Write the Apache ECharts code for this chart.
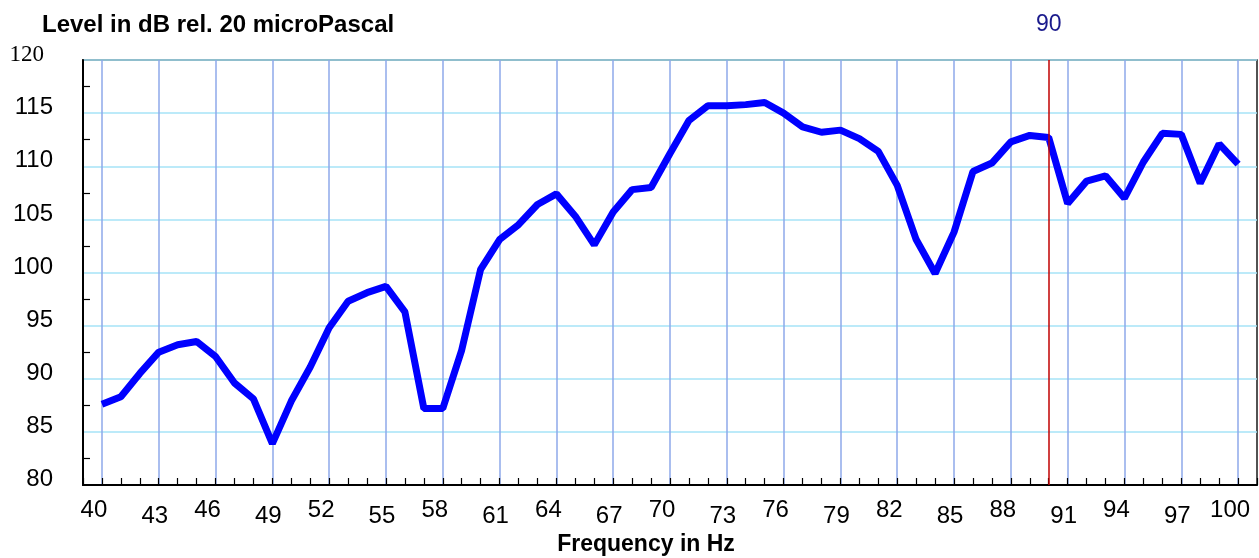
<!DOCTYPE html>
<html>
<head>
<meta charset="utf-8">
<script src="https://cdn.jsdelivr.net/npm/echarts@6/dist/echarts.min.js"></script>
<style>
  html, body { margin: 0; padding: 0; background: #fff; }
  #spl { width: 1259px; height: 558px; }
</style>
</head>
<body>
<div id="spl"></div>
<script>
// frequency in Hz, one point per Hz
let freqs = [40, 41, 42, 43, 44, 45, 46, 47, 48, 49,
  50, 51, 52, 53, 54, 55, 56, 57, 58, 59,
  60, 61, 62, 63, 64, 65, 66, 67, 68, 69,
  70, 71, 72, 73, 74, 75, 76, 77, 78, 79,
  80, 81, 82, 83, 84, 85, 86, 87, 88, 89,
  90, 91, 92, 93, 94, 95, 96, 97, 98, 99, 100];
// level in dB
let levels = [87.6, 88.3, 90.5, 92.5, 93.2, 93.5, 92.1, 89.6, 88.1, 83.9,
  87.9, 91.1, 94.8, 97.3, 98.1, 98.7, 96.3, 87.2, 87.2, 92.7,
  100.3, 103.1, 104.5, 106.4, 107.4, 105.3, 102.6, 105.7, 107.8, 108.0,
  111.2, 114.3, 115.7, 115.7, 115.8, 116.0, 115.0, 113.7, 113.2, 113.4,
  112.6, 111.4, 108.2, 103.1, 99.9, 103.8, 109.5, 110.3, 112.3, 112.9,
  112.7, 106.5, 108.6, 109.1, 107.0, 110.4, 113.1, 113.0, 108.4, 112.1, 110.2];
let xTicks = [40, 43, 46, 49, 52, 55, 58, 61, 64, 67, 70, 73, 76, 79, 82, 85, 88, 91, 94, 97, 100];
let yTicks = [80, 85, 90, 95, 100, 105, 110, 115, 120];
let cursorFreq = 90;

let font = "Liberation Sans, Arial, sans-serif";
let pts = freqs.map(function (f, i) { return [f, levels[i]]; });

let option = {
  animation: false,
  backgroundColor: "#fff",
  title: {
    text: "Level in dB rel. 20 microPascal",
    left: 37,
    top: 8,
    textStyle: { fontFamily: font, fontSize: 24, fontWeight: "bold", color: "#000" }
  },
  grid: [
    // frame + minor ticks
    { left: 83, top: 60, width: 1174, height: 425, outerBoundsMode: "none",
      show: true, borderColor: "#1a1a1a", borderWidth: 1.5 },
    // labelled gridlines 40..100
    { left: 101.94, top: 60, width: 1136.13, height: 425, outerBoundsMode: "none" }
  ],
  xAxis: [
    {
      type: "value",
      gridIndex: 0,
      min: 39,
      max: 101,
      interval: 1,
      axisLine: { lineStyle: { color: "#000", width: 2 } },
      axisTick: { show: true, inside: true, length: 7, lineStyle: { color: "#000", width: 1.2 } },
      axisLabel: { show: false },
      splitLine: { show: false }
    },
    {
      type: "value",
      gridIndex: 1,
      min: xTicks[0],
      max: xTicks[xTicks.length - 1],
      interval: 3,
      axisLine: { show: false },
      axisTick: { show: false },
      splitLine: { show: true, lineStyle: { color: "#8ea9ea", width: 1.5 } },
      axisLabel: {
        margin: 13,
        formatter: function (v) {
          let i = xTicks.indexOf(v);
          return (i % 2 === 0 ? "{a|" : "{b|") + v + "}";
        },
        rich: {
          a: { fontFamily: font, fontSize: 24, color: "#000", padding: [0, 16, 0, 0] },
          b: { fontFamily: font, fontSize: 24, color: "#000", padding: [6, 8, 0, 0] }
        }
      },
      name: "Frequency in Hz",
      nameLocation: "middle",
      nameGap: 47,
      nameTextStyle: { fontFamily: font, fontSize: 23, fontWeight: "bold", color: "#000", padding: [0, 48, 0, 0] }
    }
  ],
  yAxis: [
    {
      type: "value",
      gridIndex: 0,
      min: yTicks[0],
      max: yTicks[yTicks.length - 1],
      interval: 5,
      axisLine: { show: true, lineStyle: { color: "#000", width: 2 } },
      axisTick: { show: false, inside: true },
      minorTick: { show: true, splitNumber: 2, length: 7, lineStyle: { color: "#000", width: 1.2 } },
      splitLine: { show: true, lineStyle: { color: "#a6e3f7", width: 1.5 } },
      axisLabel: {
        margin: 30,
        formatter: function (v) {
          return v === 120 ? "{s|" + v + "}" : "{n|" + v + "}";
        },
        rich: {
          n: { fontFamily: font, fontSize: 24, color: "#000", padding: [0, 0, 11, 0] },
          s: { fontFamily: "Liberation Serif, Times New Roman, serif", fontSize: 23, color: "#000", padding: [0, 9, 11, 0] }
        }
      }
    },
    {
      type: "value",
      gridIndex: 1,
      min: yTicks[0],
      max: yTicks[yTicks.length - 1],
      show: false
    }
  ],
  series: [
    {
      type: "line",
      xAxisIndex: 0,
      yAxisIndex: 0,
      data: pts,
      symbol: "none",
      lineStyle: { color: "#0000ff", width: 7 },
      z: 3,
      markLine: {
        silent: true,
        symbol: "none",
        lineStyle: { color: "#c00000", width: 1.5, type: "solid" },
        label: {
          position: "end",
          distance: 24,
          formatter: String(cursorFreq),
          fontFamily: font,
          fontSize: 23,
          color: "#1a1a8c"
        },
        data: [{ xAxis: cursorFreq }]
      }
    }
  ]
};

let spl_chart = echarts.init(document.getElementById("spl"));
spl_chart.setOption(option);
</script>
</body>
</html>
